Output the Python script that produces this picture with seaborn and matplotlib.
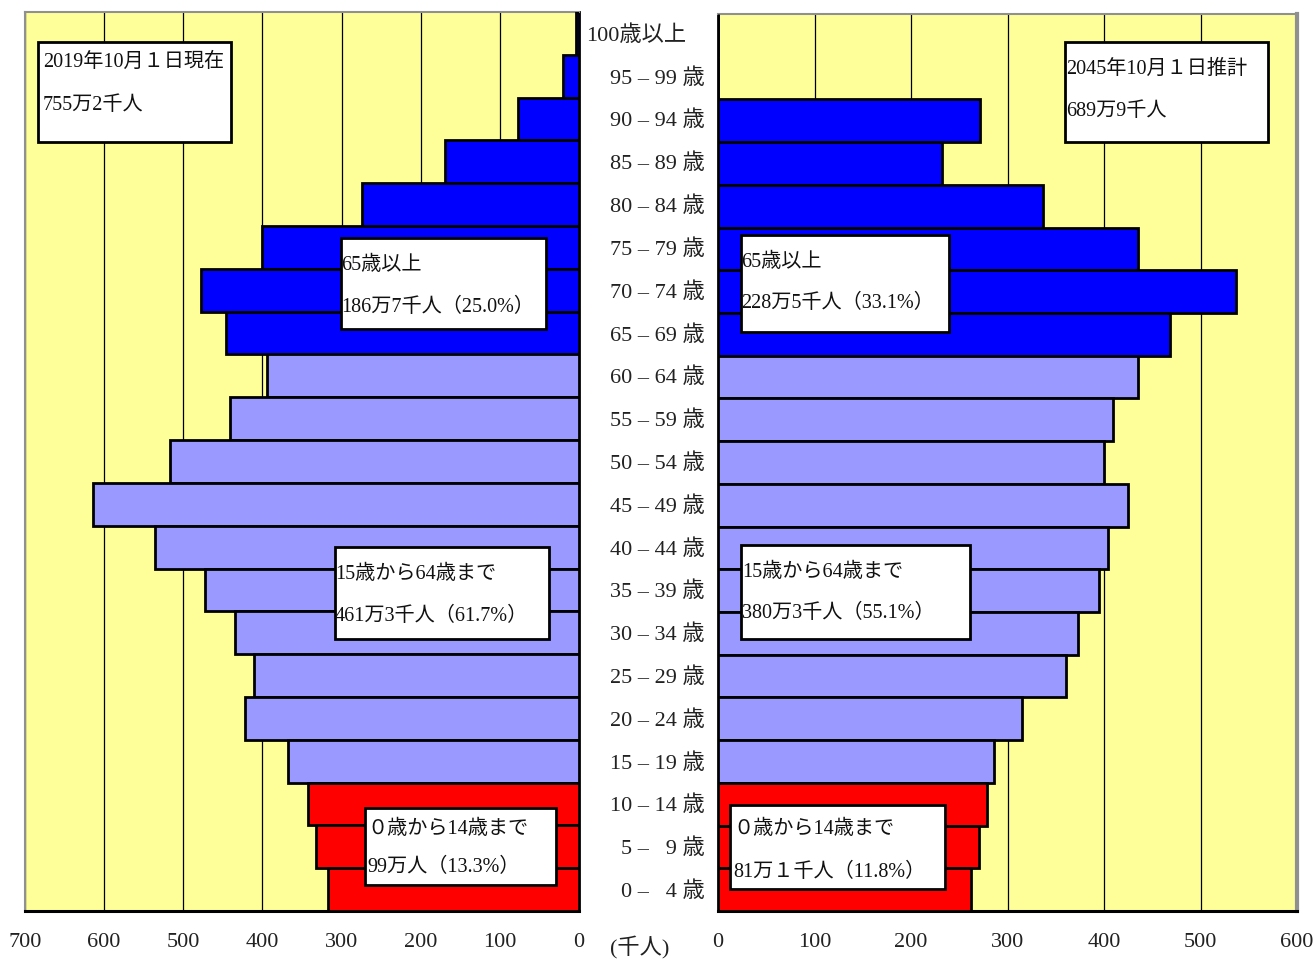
import numpy as np
import pandas as pd
import matplotlib
matplotlib.use("Agg")
import matplotlib.pyplot as plt
import seaborn as sns
from matplotlib.patches import Rectangle
from matplotlib.transforms import blended_transform_factory

# Age groups, oldest first (top of the pyramid)
age_labels = ["100歳以上", "95 – 99 歳", "90 – 94 歳", "85 – 89 歳", "80 – 84 歳",
              "75 – 79 歳", "70 – 74 歳", "65 – 69 歳", "60 – 64 歳", "55 – 59 歳",
              "50 – 54 歳", "45 – 49 歳", "40 – 44 歳", "35 – 39 歳", "30 – 34 歳",
              "25 – 29 歳", "20 – 24 歳", "15 – 19 歳", "10 – 14 歳", "5 –   9 歳",
              "0 –   4 歳"]
age_bands = ["65歳以上"] * 8 + ["15-64歳"] * 10 + ["0-14歳"] * 3

# Population in thousands
pop_2019 = [4, 20, 77, 169, 274, 401, 478, 446, 394, 441, 517, 614, 536, 473,
            435, 411, 422, 368, 343, 332, 317]
pop_2045 = [0, 0, 271, 232, 337, 435, 537, 468, 435, 409, 400, 425, 404, 395,
            373, 361, 315, 286, 279, 270, 262]

left_ticks = [0, 100, 200, 300, 400, 500, 600, 700]
right_ticks = [0, 100, 200, 300, 400, 500, 600]

band_colors = {"65歳以上": "#0000FF", "15-64歳": "#9999FF", "0-14歳": "#FF0000"}

left_boxes = [
    ("2019年10月１日現在", "755万2千人"),
    ("65歳以上", "186万7千人（25.0%）"),
    ("15歳から64歳まで", "461万3千人（61.7%）"),
    ("０歳から14歳まで", "99万人（13.3%）"),
]
right_boxes = [
    ("2045年10月１日推計", "689万9千人"),
    ("65歳以上", "228万5千人（33.1%）"),
    ("15歳から64歳まで", "380万3千人（55.1%）"),
    ("０歳から14歳まで", "81万１千人（11.8%）"),
]

sns.set_style("white")
FONT = ["Liberation Serif", "Noto Sans CJK JP", "DejaVu Sans"]
plt.rcParams["font.family"] = FONT

W, H = 1314, 964
fig = plt.figure(figsize=(W / 100, H / 100), dpi=100)


def fig_rect(x0, y0, x1, y1):
    return [x0 / W, 1 - y1 / H, (x1 - x0) / W, (y1 - y0) / H]


ax_l = fig.add_axes(fig_rect(25, 12, 579, 911))
ax_r = fig.add_axes(fig_rect(718, 14, 1297, 911))

df19 = pd.DataFrame({"age": age_labels, "pop": pop_2019, "band": age_bands})
df45 = pd.DataFrame({"age": age_labels, "pop": pop_2045, "band": age_bands})

for ax, df, xmax, ticks in [(ax_l, df19, 700, left_ticks), (ax_r, df45, 600, right_ticks)]:
    ax.set_facecolor("#FFFF99")
    sns.barplot(data=df, y="age", x="pop", hue="band", order=age_labels,
                hue_order=list(band_colors), palette=band_colors, dodge=False,
                saturation=1, width=1.0, edgecolor="black", linewidth=2,
                orient="h", legend=False, ax=ax, zorder=3)
    ax.set_ylim(len(age_labels) - 0.5, -0.5)
    ax.set_xlim(0, xmax)
    ax.set_xticks(ticks)
    ax.set_xticklabels([str(t) for t in ticks])
    ax.set_axisbelow(True)
    for t in ticks:
        ax.axvline(t, color="black", lw=0.9, zorder=1)
    ax.set_yticks([])
    ax.set_xlabel("")
    ax.set_ylabel("")
    ax.tick_params(axis="x", direction="in", length=7, width=1, color="black",
                   labelsize=16, pad=16, labelcolor="#222222")
    for side in ["top", "left", "right"]:
        ax.spines[side].set_color("#909090")
        ax.spines[side].set_linewidth(1.5)
    ax.spines["bottom"].set_color("black")
    ax.spines["bottom"].set_linewidth(2.2)

ax_l.invert_xaxis()
ax_l.spines["right"].set_color("black")
ax_l.spines["right"].set_linewidth(2)
ax_r.spines["left"].set_color("black")
ax_r.spines["left"].set_linewidth(2)
ax_r.spines["right"].set_linewidth(3)

# Age group labels between the two halves
trans = blended_transform_factory(fig.transFigure, ax_l.transData)
for i, lab in enumerate(age_labels):
    xr = 686 if i == 0 else 705
    ax_l.text(xr / W, i + 0.05, lab, transform=trans, ha="right", va="center",
              fontsize=16, color="#222222")

fig.text(640 / W, 1 - 948 / H, "(千人)", ha="center", va="center", fontsize=16,
         color="#222222")

# Annotation boxes
box_geo = [
    ((38, 42, 231, 142), (43, 62, 105)),
    ((341, 238, 546, 329), (341, 265, 307)),
    ((335, 547, 549, 639), (335, 574, 616)),
    ((365, 808, 556, 885), (367, 829, 867)),
    ((1065, 42, 1268, 142), (1066, 69, 112)),
    ((741, 235, 949, 332), (741, 262, 303)),
    ((741, 545, 970, 639), (742, 572, 613)),
    ((730, 805, 945, 889), (733, 829, 872)),
]
for (texts, (box, (tx, ty1, ty2))) in zip(left_boxes + right_boxes, box_geo):
    x0, y0, x1, y1 = box
    fig.patches.append(Rectangle((x0 / W, 1 - y1 / H), (x1 - x0) / W, (y1 - y0) / H,
                                 transform=fig.transFigure, facecolor="white",
                                 edgecolor="black", linewidth=2, zorder=10))
    for txt, ty in zip(texts, (ty1, ty2)):
        fig.text(tx / W, 1 - ty / H, txt, ha="left", va="center", fontsize=14.5,
                 color="#111111", zorder=11)

fig.savefig("out.png", dpi=100, facecolor="white")
